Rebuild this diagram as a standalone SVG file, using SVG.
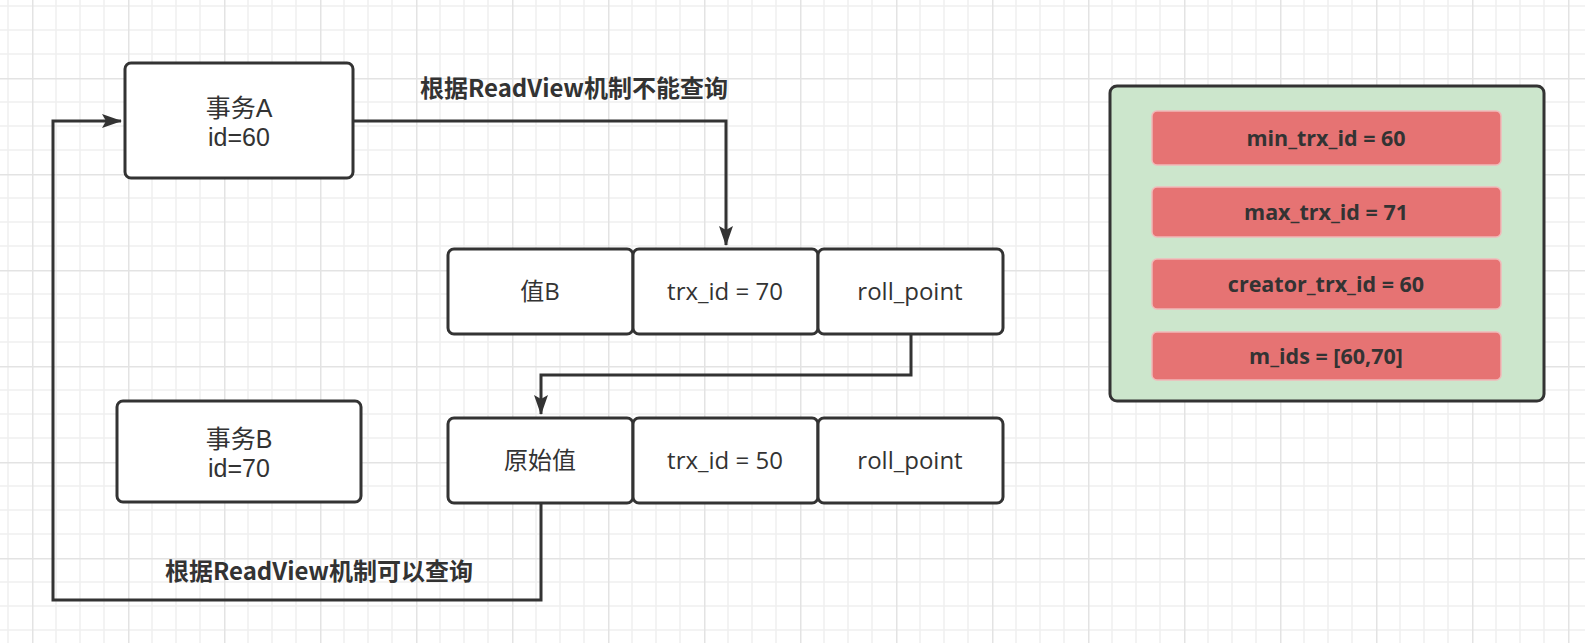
<svg xmlns="http://www.w3.org/2000/svg" width="1585" height="643" viewBox="0 0 1585 643">
<style>
.box{fill:#ffffff;stroke:#333333;stroke-width:3}
.t{font-family:"Open Sans","Noto Sans CJK SC",sans-serif;font-size:24px;fill:#333333;text-anchor:middle}
.t2{font-family:"Liberation Sans","Noto Sans CJK SC",sans-serif;font-size:25px;fill:#333333;text-anchor:middle}
.b{font-family:"Noto Sans CJK SC","Noto Sans",sans-serif;font-weight:bold;font-size:24px;fill:#333333;text-anchor:middle}
.rb{fill:#e67373;stroke:#f1b9b9;stroke-width:1.5}
.rt{font-family:"Open Sans","Noto Sans",sans-serif;font-weight:bold;font-size:21.5px;fill:#333333;text-anchor:middle}
.edge{fill:none;stroke:#333333;stroke-width:3}
</style>
<defs>
<pattern id="grid" x="32" y="78" width="96" height="96" patternUnits="userSpaceOnUse">
<path d="M24 0V96M48 0V96M72 0V96M0 24H96M0 48H96M0 72H96" stroke="#efefef" stroke-width="1.5" fill="none"/>
<path d="M0.5 0V96M0 0.5H96" stroke="#e3e3e3" stroke-width="2" fill="none"/>
</pattern>
<marker id="arr" viewBox="0 0 20 14" refX="19" refY="7" markerWidth="20" markerHeight="14" markerUnits="userSpaceOnUse" orient="auto">
<path d="M0 0L20 7L0 14L4 7Z" fill="#333333"/>
</marker>
</defs>
<rect width="1585" height="643" fill="#ffffff"/>
<rect width="1585" height="643" fill="url(#grid)"/>

<g id="connectors">
<path class="edge" d="M353 121H726V245" marker-end="url(#arr)"/>
<path class="edge" d="M911 334V375H541V414" marker-end="url(#arr)"/>
<path class="edge" d="M541 503V600H53V121H121" marker-end="url(#arr)"/>
<text class="b" x="574" y="97">根据ReadView机制不能查询</text>
<text class="b" x="319" y="580">根据ReadView机制可以查询</text>
</g>

<g id="txA">
<rect class="box" x="125" y="63" width="228" height="115" rx="6"/>
<text class="t2" x="239" y="117">事务A</text>
<text class="t2" x="239" y="146">id=60</text>
</g>
<g id="txB">
<rect class="box" x="117" y="401" width="244" height="101" rx="6"/>
<text class="t2" x="239" y="448">事务B</text>
<text class="t2" x="239" y="477">id=70</text>
</g>

<g id="row1-value">
<rect class="box" x="448" y="249" width="185" height="85" rx="6"/>
<text class="t" x="540" y="300">值B</text>
</g>
<g id="row1-trx">
<rect class="box" x="633" y="249" width="185" height="85" rx="6"/>
<text class="t" x="725" y="300">trx_id = 70</text>
</g>
<g id="row1-roll">
<rect class="box" x="818" y="249" width="185" height="85" rx="6"/>
<text class="t" x="910" y="300">roll_point</text>
</g>

<g id="row2-value">
<rect class="box" x="448" y="418" width="185" height="85" rx="6"/>
<text class="t" x="540" y="469">原始值</text>
</g>
<g id="row2-trx">
<rect class="box" x="633" y="418" width="185" height="85" rx="6"/>
<text class="t" x="725" y="469">trx_id = 50</text>
</g>
<g id="row2-roll">
<rect class="box" x="818" y="418" width="185" height="85" rx="6"/>
<text class="t" x="910" y="469">roll_point</text>
</g>

<g id="readview">
<rect x="1110" y="86" width="434" height="315" rx="7" fill="#cce6cc" stroke="#333333" stroke-width="3"/>
<g id="rv-min">
<rect class="rb" x="1152" y="111" width="349" height="54" rx="5"/>
<text class="rt" x="1326" y="146">min_trx_id = 60</text>
</g>
<g id="rv-max">
<rect class="rb" x="1152" y="187" width="349" height="50" rx="5"/>
<text class="rt" x="1326" y="220">max_trx_id = 71</text>
</g>
<g id="rv-creator">
<rect class="rb" x="1152" y="259" width="349" height="50" rx="5"/>
<text class="rt" x="1326" y="292">creator_trx_id = 60</text>
</g>
<g id="rv-mids">
<rect class="rb" x="1152" y="332" width="349" height="48" rx="5"/>
<text class="rt" x="1326" y="364">m_ids = [60,70]</text>
</g>
</g>
</svg>
